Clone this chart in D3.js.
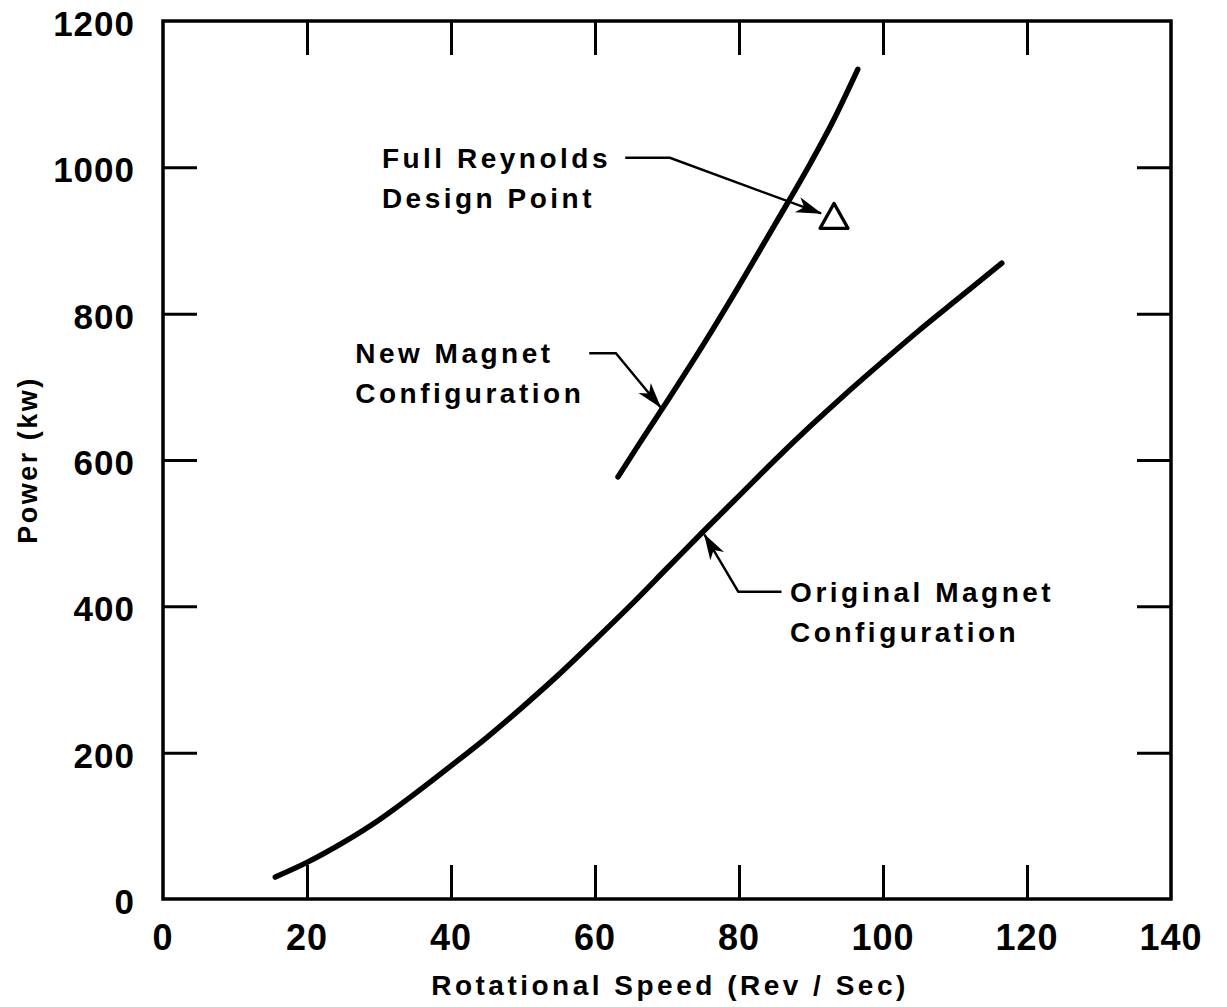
<!DOCTYPE html>
<html>
<head>
<meta charset="utf-8">
<script src="https://cdn.jsdelivr.net/npm/d3@7"></script>
<style>
  html, body { margin: 0; padding: 0; background: #fff; }
  svg { display: block; }
  text { font-family: "Liberation Sans", Arial, sans-serif; font-weight: bold; fill: #000; }
</style>
</head>
<body>
<svg id="chart" width="1227" height="1007"></svg>
<script>
// Power vs rotational speed for the two magnet configurations
const originalSpeed = [15.6, 20, 25, 30, 35, 40, 45, 50, 55, 60, 65, 70, 75, 80, 85, 90, 95, 100, 105, 110, 116.5];
const originalPower = [30, 50, 77, 108, 144, 182, 221, 263, 307, 354, 402, 452, 502, 551, 600, 647, 692, 735, 777, 817, 869];

const newSpeed = [63.2, 66, 70, 75, 80, 85, 90, 93, 96.5];
const newPower = [577, 620, 680, 757, 838, 922, 1007, 1062, 1134];

// Full Reynolds design point
const designSpeed = [93.2];
const designPower = [933];

const xTicks = [0, 20, 40, 60, 80, 100, 120, 140];
const yTicks = [0, 200, 400, 600, 800, 1000, 1200];

const xTitle = "Rotational Speed (Rev / Sec)";
const yTitle = "Power (kw)";

// annotation labels with their leader lines (speed, power)
const notes = [
  { lines: ["Full Reynolds", "Design Point"], at: [30.4, 999], gap: 40,
    leader: [[64.2, 1013], [70.4, 1013], [91.4, 937]] },
  { lines: ["New Magnet", "Configuration"], at: [26.7, 733], gap: 40,
    leader: [[59.2, 746], [62.9, 746], [69.1, 672]] },
  { lines: ["Original Magnet", "Configuration"], at: [87.1, 406], gap: 40,
    leader: [[85.9, 420], [79.9, 420], [75.2, 498]] }
];

const svg = d3.select("#chart");
const mLeft = 163, mRight = 1171, mTop = 21, mBottom = 899;

const x = d3.scaleLinear().domain([0, 140]).range([mLeft, mRight]);
const y = d3.scaleLinear().domain([0, 1200]).range([mBottom, mTop]);

const tickLen = 34;

// inward ticks on all four sides
function inner(axis, vals) {
  return axis.tickValues(vals).tickSizeInner(-tickLen).tickSizeOuter(0);
}
const innerX = xTicks.filter(d => d > 0 && d < 140);
const innerY = yTicks.filter(d => d > 0 && d < 1200);

const gB = svg.append("g").attr("transform", `translate(0,${mBottom})`)
  .call(inner(d3.axisBottom(x), innerX).tickFormat(""));
const gT = svg.append("g").attr("transform", `translate(0,${mTop})`)
  .call(inner(d3.axisTop(x), innerX).tickFormat(""));
const gL = svg.append("g").attr("transform", `translate(${mLeft},0)`)
  .call(inner(d3.axisLeft(y), innerY).tickFormat(""));
const gR = svg.append("g").attr("transform", `translate(${mRight},0)`)
  .call(inner(d3.axisRight(y), innerY).tickFormat(""));
[gB, gT, gL, gR].forEach(g => {
  g.select(".domain").remove();
  g.selectAll("line").attr("stroke", "#000").attr("stroke-width", 3);
});

// frame
svg.append("rect")
  .attr("x", x(0)).attr("y", y(1200))
  .attr("width", x(140) - x(0)).attr("height", y(0) - y(1200))
  .attr("fill", "none").attr("stroke", "#000").attr("stroke-width", 3.5);

// tick labels
svg.append("g").selectAll("text").data(xTicks).join("text")
  .attr("x", d => x(d)).attr("y", mBottom + 51)
  .attr("text-anchor", "middle")
  .style("font-size", "36px").style("letter-spacing", "1px")
  .text(d => d);

svg.append("g").selectAll("text").data(yTicks).join("text")
  .attr("x", mLeft - 28).attr("y", d => y(d) + 15)
  .attr("text-anchor", "end")
  .style("font-size", "35px").style("letter-spacing", "1px")
  .text(d => d);

// axis titles
svg.append("text")
  .attr("x", 670).attr("y", 995)
  .attr("text-anchor", "middle")
  .style("font-size", "28px").style("letter-spacing", "3.5px")
  .text(xTitle);

svg.append("text")
  .attr("transform", `translate(37,${460}) rotate(-90)`)
  .attr("text-anchor", "middle")
  .style("font-size", "27px").style("letter-spacing", "2.5px")
  .text(yTitle);

// curves
const line = d3.line().x(d => x(d[0])).y(d => y(d[1])).curve(d3.curveMonotoneX);
const originalPts = d3.zip(originalSpeed, originalPower);
const newPts = d3.zip(newSpeed, newPower);

[originalPts, newPts].forEach(pts => {
  svg.append("path").datum(pts)
    .attr("d", line)
    .attr("fill", "none").attr("stroke", "#000")
    .attr("stroke-width", 5.5).attr("stroke-linecap", "round");
});

// design point triangle
svg.append("g").selectAll("path").data(d3.zip(designSpeed, designPower)).join("path")
  .attr("transform", d => `translate(${x(d[0])},${y(d[1])})`)
  .attr("d", "M0,-13 L14,12 L-14,12 Z")
  .attr("fill", "#fff").attr("stroke", "#000")
  .attr("stroke-width", 3.2).attr("stroke-linejoin", "round");

// arrowheads
svg.append("defs").append("marker")
  .attr("id", "head").attr("markerUnits", "userSpaceOnUse")
  .attr("viewBox", "-26 -10 28 20").attr("refX", 0).attr("refY", 0)
  .attr("markerWidth", 28).attr("markerHeight", 20).attr("orient", "auto")
  .append("path").attr("d", "M1,0 L-25,-8 L-18,0 L-25,8 Z").attr("fill", "#000");

const leader = d3.line().x(d => x(d[0])).y(d => y(d[1]));
notes.forEach(n => {
  svg.append("path").datum(n.leader)
    .attr("d", leader)
    .attr("fill", "none").attr("stroke", "#000").attr("stroke-width", 2.4)
    .attr("marker-end", "url(#head)");
  const t = svg.append("text")
    .attr("x", x(n.at[0])).attr("y", y(n.at[1]))
    .style("font-size", "28px").style("letter-spacing", "3.5px");
  n.lines.forEach((s, i) => {
    t.append("tspan").attr("x", x(n.at[0])).attr("dy", i === 0 ? 0 : n.gap).text(s);
  });
});
</script>
</body>
</html>
